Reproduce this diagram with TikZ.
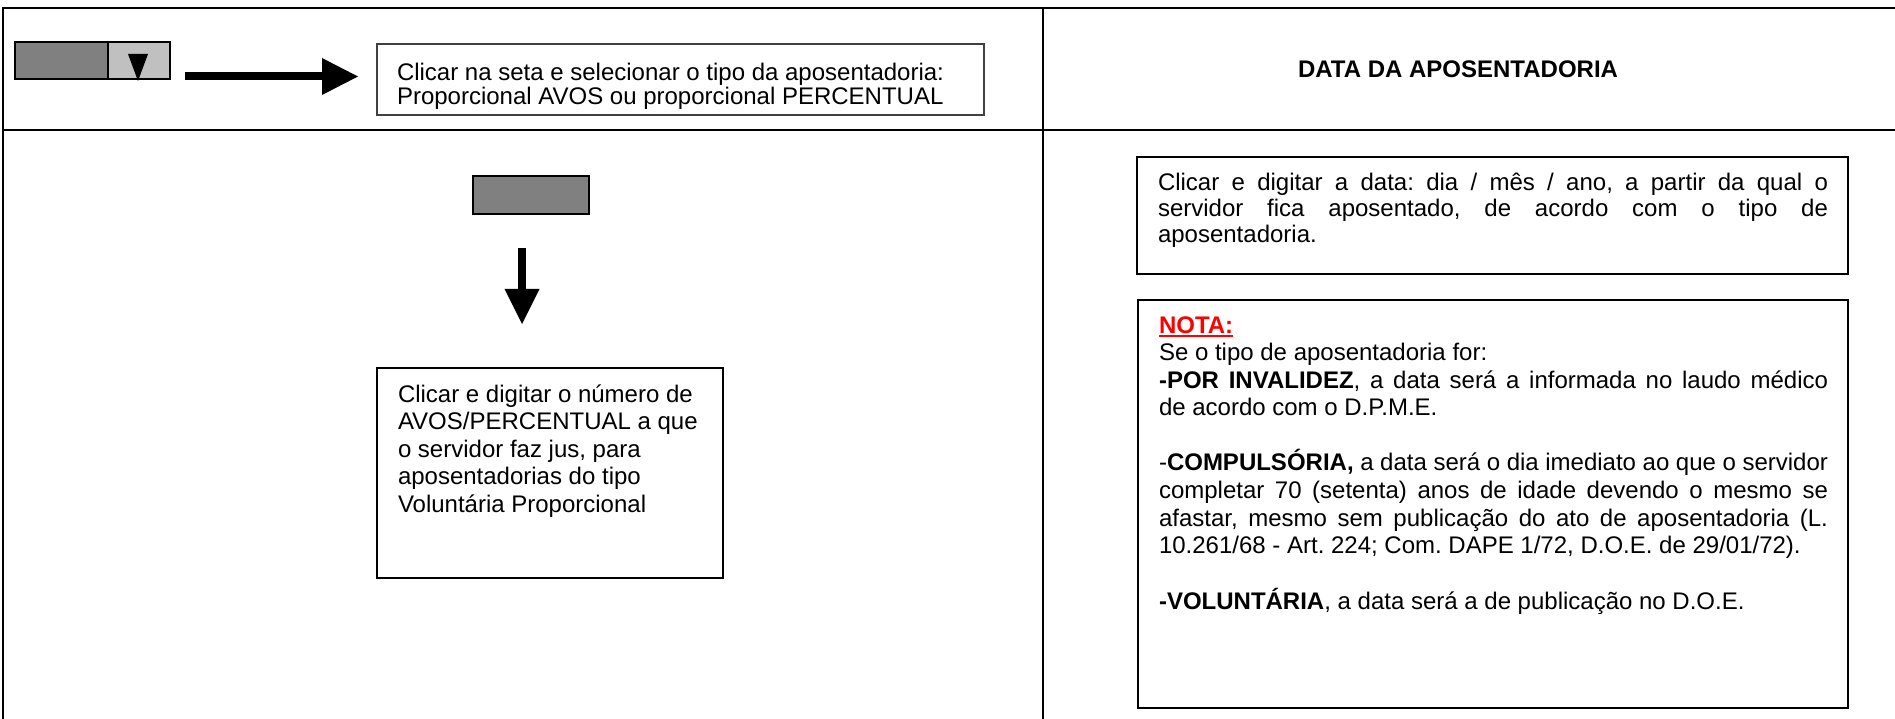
\documentclass[tikz,border=0pt]{standalone}
\usepackage{fontspec}
\setmainfont{Liberation Sans}
\usetikzlibrary{arrows.meta}
\definecolor{dgray}{HTML}{808080}
\definecolor{lgray}{HTML}{C0C0C0}
\definecolor{nred}{HTML}{FF0000}
\definecolor{bgray}{HTML}{404040}
\newcommand{\J}[1]{\makebox[\linewidth][s]{#1}}
\newcommand{\bodyfont}{\fontsize{24}{27.6}\selectfont\frenchspacing}
\newcommand{\myul}[1]{\leavevmode\setbox0\hbox{#1}\rlap{\raisebox{-4pt}{\rule{\wd0}{2.4pt}}}\box0}
\begin{document}
\begin{tikzpicture}[x=1pt,y=-1pt,
  gridline/.style={line width=2.6pt, line join=miter},
  box/.style={draw, line width=2pt, anchor=north west, inner sep=0pt, outer sep=0pt, fill=white},
  txt/.style={anchor=base west, inner sep=0pt, outer sep=0pt},
  bigarrow/.style={line width=8pt}]
\useasboundingbox (0,0) rectangle (1895,719);
\fill[white] (0,0) rectangle (1895,719);

% table grid
\draw[gridline] (1895,8) -- (3,8) -- (3,719);
\draw[gridline] (1043,8) -- (1043,719);
\draw[gridline] (3,130) -- (1895,130);

% combo box
\node[box, fill=lgray, minimum width=155pt, minimum height=37pt] (combo) at (15,42) {};
\node[box, fill=dgray, minimum width=93pt, minimum height=37pt] (combol) at (15,42) {};
\fill (128,54) -- (148,54) -- (138,81) -- cycle;

% arrow to first text box
\coordinate (a1s) at (185,76.5);
\coordinate (a1e) at (358,76.5);
\draw[bigarrow, -{Triangle[length=36pt,width=37pt,line width=0pt]}] (a1s) -- (a1e);

% first text box
\node[box, draw=bgray, line width=1.4pt, minimum width=607pt, minimum height=71pt] (box1) at (377,44) {};
\node[txt] (t1) at (397,81) {\parbox[t]{580pt}{\fontsize{24}{22}\selectfont\frenchspacing
Clicar na seta e selecionar o tipo da aposentadoria:\\
Proporcional AVOS ou proporcional PERCENTUAL}};

% title
\node[txt, font=\fontsize{24}{28}\selectfont\bfseries] (title) at (1298,78) {DATA DA APOSENTADORIA};

% small gray box and down arrow
\node[box, fill=dgray, minimum width=116pt, minimum height=38pt] (gbox) at (473,176) {};
\coordinate (a2s) at (522,248);
\coordinate (a2e) at (522,324);
\draw[bigarrow, -{Triangle[length=35pt,width=35pt,line width=0pt]}] (a2s) -- (a2e);

% box 3
\node[box, minimum width=346pt, minimum height=210pt] (box3) at (377,368) {};
\node[txt] (t3) at (398,402) {\parbox[t]{320pt}{\bodyfont
Clicar e digitar o número de\\
AVOS/PERCENTUAL a que\\
o servidor faz jus, para\\
aposentadorias do tipo\\
Voluntária Proporcional}};

% box 2
\node[box, minimum width=711pt, minimum height=117pt] (box2) at (1137,157) {};
\node[txt] (t2) at (1158,191) {\parbox[t]{670pt}{\fontsize{24}{26}\selectfont\frenchspacing
\J{Clicar e digitar a data: dia / mês / ano, a partir da qual o}\\
\J{servidor fica aposentado, de acordo com o tipo de}\\
aposentadoria.}};

% note box
\node[box, minimum width=710pt, minimum height=408pt] (nbox) at (1138,300) {};
\node[txt] (nt) at (1159,333) {\parbox[t]{669pt}{\bodyfont
\leavevmode{\color{nred}\bfseries\myul{NOTA:}}\\
Se o tipo de aposentadoria for:\\
\J{\textbf{-POR INVALIDEZ}, a data será a informada no laudo médico}\\
de acordo com o D.P.M.E.\\[27.6pt]
\J{-\textbf{COMPULSÓRIA,} a data será o dia imediato ao que o servidor}\\
\J{completar 70 (setenta) anos de idade devendo o mesmo se}\\
\J{afastar, mesmo sem publicação do ato de aposentadoria (L.}\\
10.261/68 - Art. 224; Com. DAPE 1/72, D.O.E. de 29/01/72).\\[27.6pt]
\textbf{-VOLUNTÁRIA}, a data será a de publicação no D.O.E.}};
\end{tikzpicture}
\end{document}
